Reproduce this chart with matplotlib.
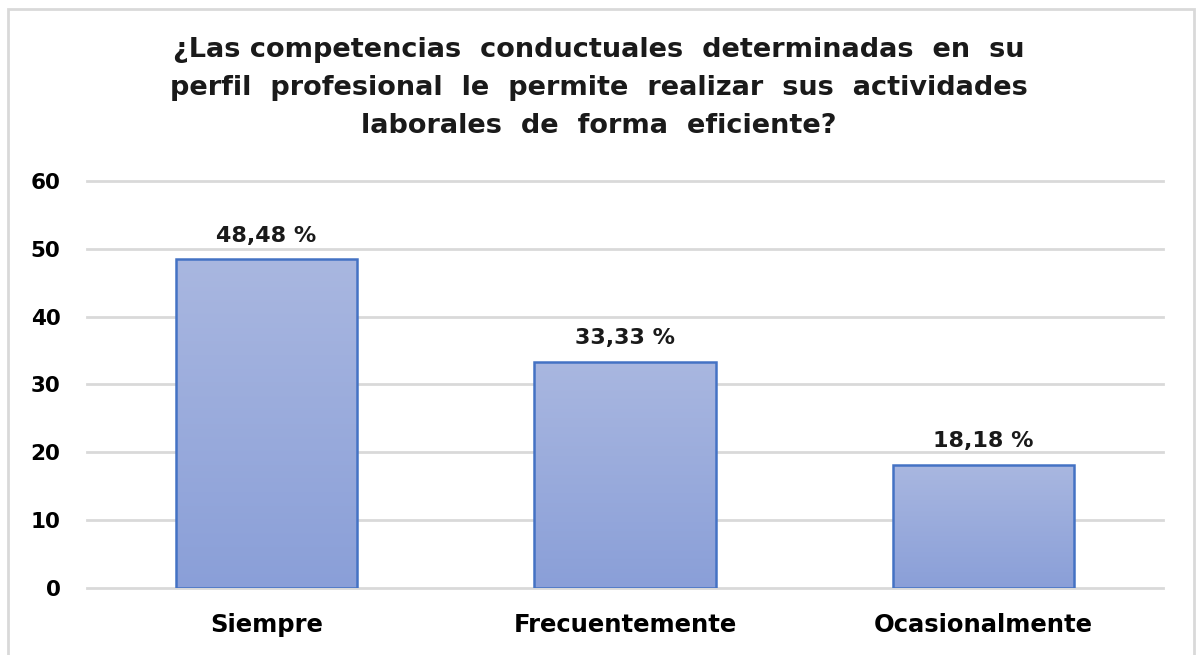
import matplotlib.pyplot as plt
import numpy as np
from matplotlib.colors import LinearSegmentedColormap

categorias = ['Siempre', 'Frecuentemente', 'Ocasionalmente']
porcentajes = [48.48, 33.33, 18.18]
etiquetas = ['48,48 %', '33,33 %', '18,18 %']
titulo = ('¿Las competencias  conductuales  determinadas  en  su\n'
          'perfil  profesional  le  permite  realizar  sus  actividades\n'
          'laborales  de  forma  eficiente?')

plt.rcParams['font.family'] = ['DejaVu Sans']
plt.rcParams['font.weight'] = 'bold'

fig = plt.figure(figsize=(11.98, 6.55), dpi=100)
ax = fig.add_axes([0.0726, 0.1023, 0.8982, 0.6214])

# marco del gráfico
fig.patches.append(plt.Rectangle((0.007, -0.01), 0.990, 0.997, transform=fig.transFigure,
                                 fill=False, edgecolor='#d9d9d9', linewidth=2))

x = np.arange(len(categorias))
bars = ax.bar(x, porcentajes, width=0.505, color='none', edgecolor='#4472C4',
              linewidth=1.8, zorder=3)

# degradado de cada barra
grad = np.linspace(0, 1, 256).reshape(-1, 1)
cmap = LinearSegmentedColormap.from_list('g', ['#8A9FD8', '#A9B7E0'])
for b in bars:
    x0, w, h = b.get_x(), b.get_width(), b.get_height()
    im = ax.imshow(grad, extent=[x0, x0 + w, 0, h], origin='lower', cmap=cmap,
                   aspect='auto', zorder=2)
    im.set_clip_path(b)

for xi, v, t in zip(x, porcentajes, etiquetas):
    ax.text(xi, v + 2.0, t, ha='center', va='bottom', fontsize=16, color='#1a1a1a')

ax.set_xlim(-0.5, 2.5)
ax.set_ylim(0, 60)
ax.set_yticks(range(0, 61, 10))
ax.set_xticks(x)
ax.set_xticklabels(categorias, fontsize=17.5)
ax.tick_params(axis='y', labelsize=15.5, length=0, pad=19)
ax.tick_params(axis='x', length=0, pad=18)
ax.grid(axis='y', color='#d9d9d9', linewidth=2, zorder=0)
for g in ax.get_ygridlines():
    g.set_clip_on(False)
for s in ax.spines.values():
    s.set_visible(False)

fig.text(0.5, 0.943, titulo, ha='center', va='top', fontsize=19.5,
         linespacing=1.6, color='#1a1a1a')

fig.savefig('out.png', dpi=100)
